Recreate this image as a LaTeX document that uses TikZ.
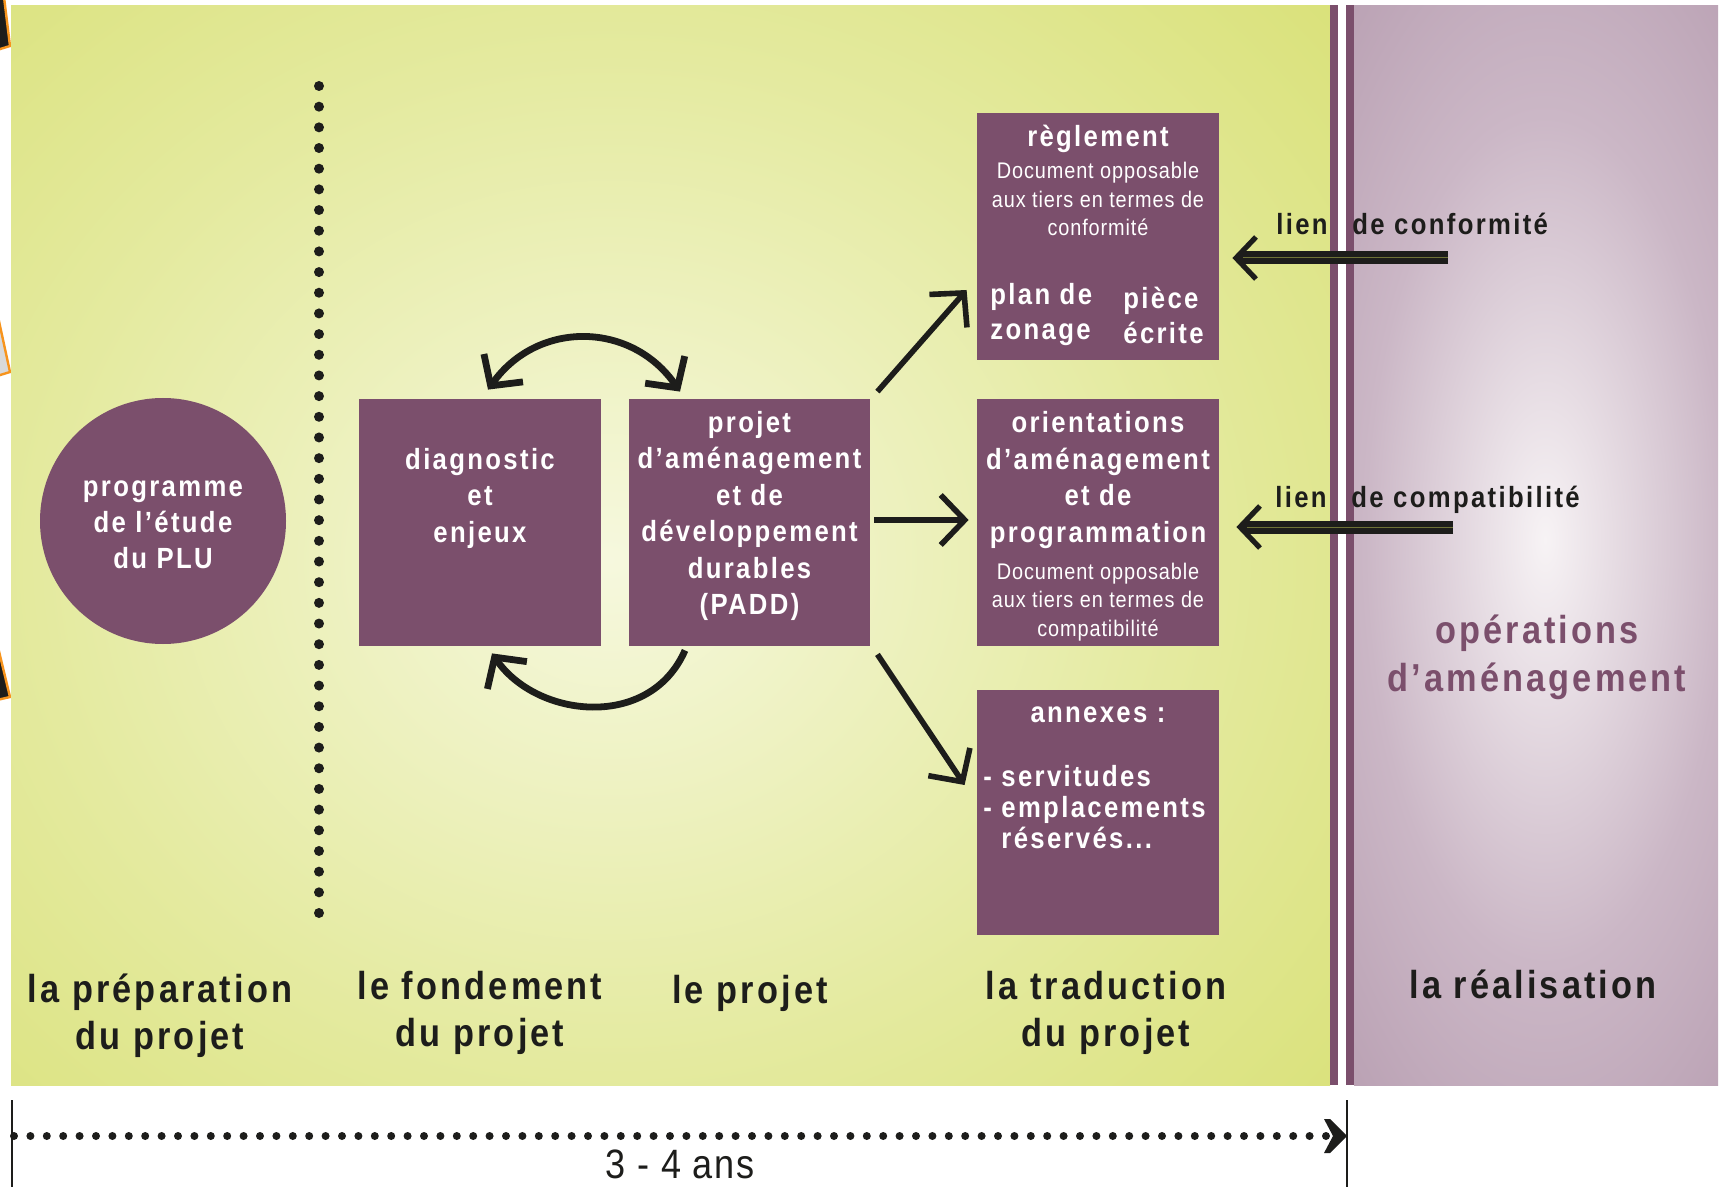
\documentclass[tikz,border=0pt]{standalone}
\usepackage{fontspec}
\setmainfont{Liberation Sans}[UprightFeatures={FakeStretch=0.88,LetterSpace=4},BoldFeatures={FakeStretch=0.88,LetterSpace=8}]
\usetikzlibrary{arrows.meta,calc}
\definecolor{plum}{HTML}{7B4F6C}
\definecolor{greenout}{HTML}{D1DA5A}
\definecolor{greenmid}{HTML}{E4EA9F}
\definecolor{greenin}{HTML}{F6F8DE}
\definecolor{purpout}{HTML}{A6889E}
\definecolor{purpmid}{HTML}{CBB7C6}
\definecolor{purpin}{HTML}{F7F3F5}
\definecolor{orangeb}{HTML}{F7941D}
\definecolor{ink}{HTML}{1D1D1B}
\pgfdeclareradialshading{greenglow}{\pgfpoint{0bp}{0bp}}{color(0bp)=(greenin); color(11bp)=(greenmid); color(25bp)=(greenout); color(50bp)=(greenout)}
\pgfdeclareradialshading{purpglow}{\pgfpoint{0bp}{0bp}}{color(0bp)=(purpin); color(10bp)=(purpmid); color(25bp)=(purpout); color(50bp)=(purpout)}
\begin{document}
\begin{tikzpicture}[x=0.5pt,y=-0.5pt,
  box/.style={fill=plum, inner sep=0pt, minimum width=121pt, minimum height=123.5pt},
  boxtxt/.style={text=white, font=\bfseries\fontsize{14.6}{18.25}\selectfont, align=center, inner sep=0pt},
  smalltxt/.style={text=white, font=\fontsize{11.3}{14.25}\selectfont, align=center, inner sep=0pt},
  steplabel/.style={text=ink, font=\bfseries\fontsize{19.5}{23.5}\selectfont, align=center, inner sep=0pt},
  lientxt/.style={text=ink, font=\bfseries\fontsize{14.6}{18}\selectfont, inner sep=0pt},
  flow/.style={draw=ink, line width=2.8pt, -{Straight Barb[length=12pt,width=25pt]}},
  curvearrow/.style={draw=ink, line width=3.4pt},
  lien/.style={draw=ink, line width=6.5pt, -{Straight Barb[length=10pt,width=21pt,line width=2.6pt]}},
  lienmid/.style={draw=ink!55!greenout, line width=0.5pt},
  frag/.style={draw=orangeb, line width=1.2pt}
]
\useasboundingbox (0,0) rectangle (1719,1187);
\fill[white] (0,0) rectangle (1719,1187);
% left fragments
\filldraw[frag, fill=ink] (-3,-3) -- (4,-3) -- (10,46) -- (-3,50) -- cycle;
\filldraw[frag, fill=black!15] (-3,312) -- (10,372) -- (-3,376) -- cycle;
\filldraw[frag, fill=ink] (-3,643) -- (10,697) -- (-3,700) -- cycle;
% green panel
\begin{scope}
\clip (11,6) rectangle (1330,1085);
\fill[greenout] (11,6) rectangle (1330,1085);
\shade[shading=greenglow] (610,560) ellipse [x radius=1300, y radius=1150];
\end{scope}
% purple panel
\begin{scope}
\clip (1354,6) rectangle (1718,1085);
\fill[purpout] (1354,6) rectangle (1718,1085);
\shade[shading=purpglow] (1545,540) ellipse [x radius=450, y radius=1060];
\end{scope}
% stripes
\fill[plum] (1330,5) rectangle (1338,1085);
\fill[plum] (1346,5) rectangle (1354,1085);
% dotted separator
\coordinate (sepA) at (319,86);
\coordinate (sepB) at (319,914);
\draw[ink, line width=5pt, line cap=round, dash pattern=on 0pt off 10.3375pt] (sepA) -- (sepB);
% circle
\node[circle, fill=plum, minimum size=123pt, inner sep=0pt] (prog) at (163,521) {};
\node[boxtxt, font=\bfseries\fontsize{14.6}{18}\selectfont] (progt) at (163,525) {programme\\de l’étude\\du PLU};
% boxes
\node[box] (diag) at (480,522.5) {};
\node[boxtxt] (diagt) at (480,498) {diagnostic\\et\\enjeux};
\node[box, minimum width=120.5pt] (padd) at (749.5,522.5) {};
\node[boxtxt] (paddt) at (749.5,516) {projet\\d’aménagement\\et de\\développement\\durables\\(PADD)};
\node[box] (regl) at (1098,236.5) {};
\node[boxtxt, anchor=base] (reglt) at (1098,147) {règlement};
\node[smalltxt] (regls) at (1098,199) {Document opposable\\aux tiers en termes de\\conformité};
\node[boxtxt, align=left, anchor=west, font=\bfseries\fontsize{14.6}{17.5}\selectfont] (zon) at (990,315) {plan de\\zonage};
\node[boxtxt, align=left, anchor=west, font=\bfseries\fontsize{14.6}{17.5}\selectfont] (piece) at (1123,315) {pièce\\écrite};
\node[box] (oap) at (1098,522.5) {};
\node[boxtxt] (oapt) at (1098,480) {orientations\\d’aménagement\\et de\\programmation};
\node[smalltxt] (oaps) at (1098,602) {Document opposable\\aux tiers en termes de\\compatibilité};
\node[box, minimum height=122.5pt] (annex) at (1098,812.5) {};
\node[boxtxt, anchor=base] (annext) at (1098,722) {annexes :};
\node[boxtxt, align=left, anchor=west, font=\bfseries\fontsize{14.6}{15.5}\selectfont] (annexl) at (983,807) {- servitudes\\- emplacements\\\phantom{- }réservés...};
% flows from PADD
\draw[flow] ($(padd.north east)+(7,-7)$) -- ($(regl.west)+(-10,53.5)$);
\draw[flow] ($(padd.east)+(4,-2.5)$) -- ($(oap.west)+(-8,-2.5)$);
\draw[flow] ($(padd.south east)+(7,8)$) -- ($(annex.west)+(-12,-27.5)$);
% curved arrows
\draw[curvearrow, {Straight Barb[length=11pt,width=24pt]}-{Straight Barb[length=11pt,width=24pt]}]
  ($(diag.north)+(8,-9)$) .. controls +(50,-70) and +(-48,-70) .. ($(padd.north)+(-69.5,-7)$);
\draw[curvearrow, -{Straight Barb[length=11pt,width=24pt]}]
  ($(padd.south)+(-64.5,4)$) .. controls +(-35,80) and +(45,65) .. ($(diag.south)+(12,7)$);
% lien arrows
\coordinate (lcA) at (1448,258);
\coordinate (lcB) at (1453,527);
\draw[lien] (lcA) -- ($(regl.east)+(13,21.5)$);
\draw[lien] (lcB) -- ($(oap.east)+(17,4.5)$);
\draw[lienmid] (lcA) -- ($(regl.east)+(24,21.5)$);
\draw[lienmid] (lcB) -- ($(oap.east)+(28,4.5)$);
\node[lientxt, anchor=base east] (lien1) at (1328,235) {lien};
\node[lientxt, anchor=base west] (conf) at (1352,235) {de conformité};
\node[lientxt, anchor=base east] (lien2) at (1327,508) {lien};
\node[lientxt, anchor=base west] (compat) at (1351,508) {de compatibilité};
% operations
\node[steplabel, text=plum, font=\bfseries\fontsize{19.5}{24}\selectfont] (ops) at (1537,657) {opérations\\d’aménagement};
% bottom labels
\node[steplabel] (prep) at (160,1016) {la préparation\\du projet};
\node[steplabel] (fond) at (480,1013) {le fondement\\du projet};
\node[steplabel] (proj) at (750,993) {le projet};
\node[steplabel] (trad) at (1106,1013) {la traduction\\du projet};
\node[steplabel, anchor=base] (real) at (1533,998) {la réalisation};
% timeline
\coordinate (tickA1) at (12,1100);
\coordinate (tickA2) at (12,1187);
\coordinate (tickB1) at (1347,1100);
\coordinate (tickB2) at (1347,1187);
\draw[ink, line width=0.8pt] (tickA1) -- (tickA2);
\draw[ink, line width=0.8pt] (tickB1) -- (tickB2);
\coordinate (tlA) at (14,1136);
\coordinate (tlB) at (1326,1136);
\draw[ink, line width=4pt, line cap=round, dash pattern=on 0pt off 8.2pt] (tlA) -- (tlB);
\fill[ink] (1324,1119) -- (1330,1119) -- (1347,1136) -- (1330,1153) -- (1324,1153) -- (1333,1136) -- cycle;
\node[text=ink, font=\fontsize{20.5}{24}\selectfont, inner sep=0pt, anchor=base] (ans) at (680,1178) {3 - 4 ans};
\end{tikzpicture}
\end{document}
